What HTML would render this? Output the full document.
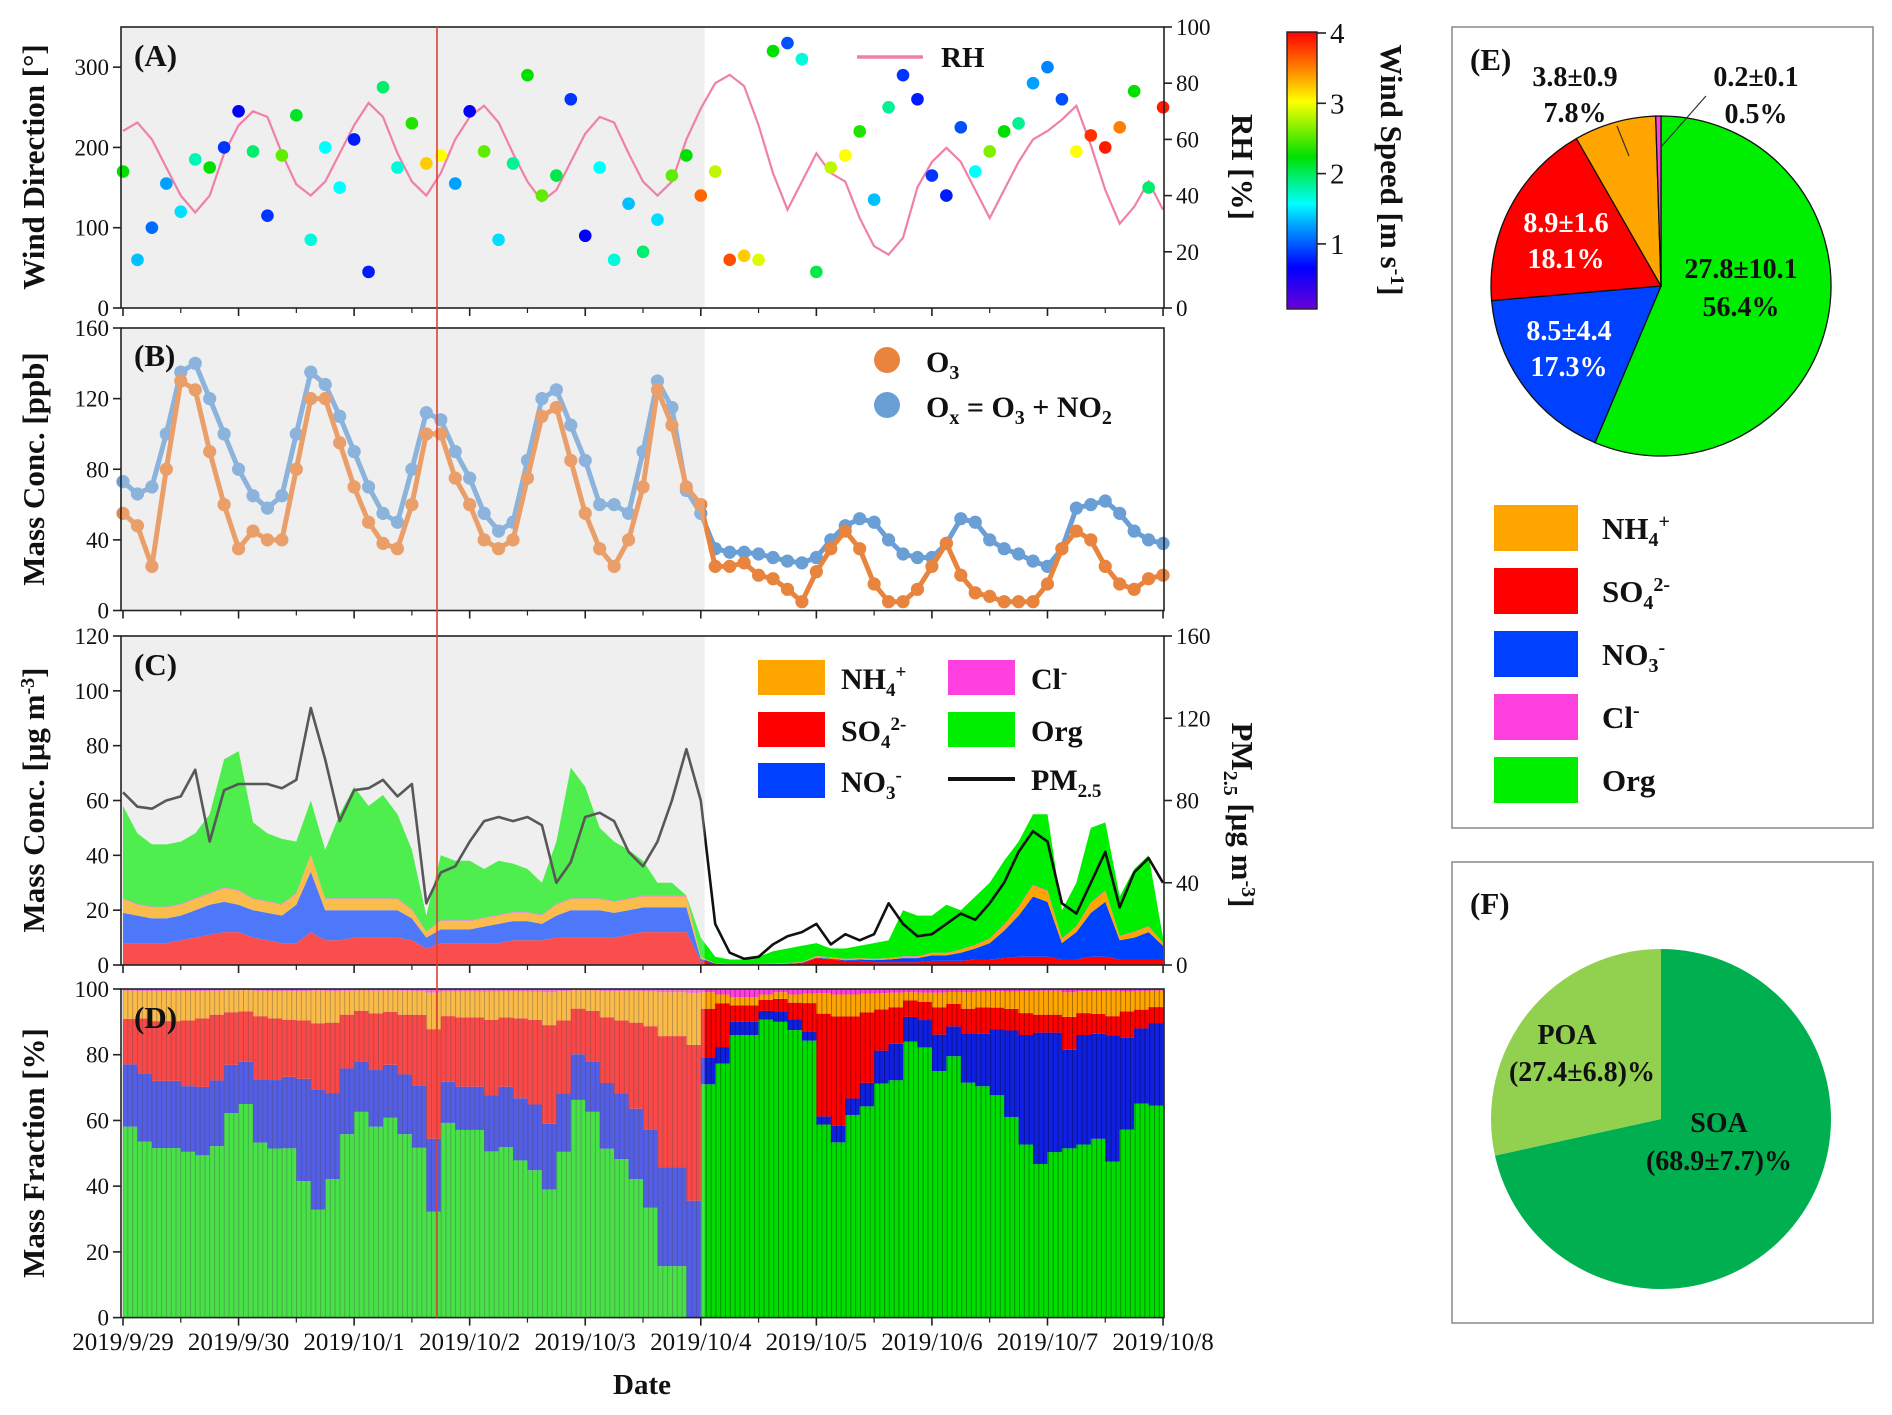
<!DOCTYPE html>
<html><head><meta charset="utf-8"><style>
html,body{margin:0;padding:0;background:#fff;}
svg{display:block;font-family:"Liberation Serif",serif;}
</style></head><body>
<svg id="chart" width="1892" height="1415" viewBox="0 0 1892 1415" xmlns="http://www.w3.org/2000/svg">
<defs>
<linearGradient id="wsgrad" x1="0" y1="1" x2="0" y2="0">
<stop offset="0" stop-color="#6a00d8"/><stop offset="0.15" stop-color="#0000ff"/><stop offset="0.3" stop-color="#00a0ff"/><stop offset="0.38" stop-color="#00ffff"/><stop offset="0.55" stop-color="#00e000"/><stop offset="0.75" stop-color="#ffff00"/><stop offset="0.87" stop-color="#ff8000"/><stop offset="1" stop-color="#ff0000"/>
</linearGradient>
</defs>
<g id="root"></g>
</svg>
<script>
// ---------- DATA (3-hourly, 2019/9/29 00:00 to 2019/10/8 00:00) ----------
const dateLabels = ["2019/9/29","2019/9/30","2019/10/1","2019/10/2","2019/10/3","2019/10/4","2019/10/5","2019/10/6","2019/10/7","2019/10/8"];
const rhVals = [63,66,60,50,40,34,40,55,65,70,68,55,44,40,45,55,65,73,68,55,45,40,48,60,68,72,66,55,45,38,42,52,62,68,66,55,45,40,45,60,71,80,83,79,65,48,35,45,55,48,45,32,22,19,25,43,52,57,52,42,32,42,52,60,63,67,72,58,42,30,36,45,35];
const windDir = [170,60,100,155,120,185,175,200,245,195,115,190,240,85,200,150,210,45,275,175,230,180,190,155,245,195,85,180,290,140,165,260,90,175,60,130,70,110,165,190,140,170,60,65,60,320,330,310,45,175,190,220,135,250,290,260,165,140,225,170,195,220,230,280,300,260,195,215,200,225,270,150,250];
const windSpd = [2.2,1.3,1.0,1.2,1.4,1.7,2.2,0.8,0.6,1.9,0.8,2.5,2.1,1.6,1.5,1.5,0.7,0.7,1.9,1.6,2.3,3.2,3.0,1.2,0.6,2.5,1.4,1.8,2.2,2.5,2.0,0.8,0.6,1.5,1.6,1.3,1.9,1.4,2.5,2.2,3.6,2.8,3.7,3.2,2.9,2.2,0.9,1.6,2.0,2.8,3.0,2.3,1.3,1.8,0.8,0.7,0.8,0.7,0.9,1.5,2.6,2.2,1.8,1.2,1.1,0.9,3.0,3.8,3.9,3.5,2.2,1.9,3.9];
const oxVals = [73,66,70,100,135,140,120,100,80,65,58,65,100,135,128,110,90,70,55,50,80,112,108,90,75,55,45,50,85,120,125,105,85,60,60,55,90,130,115,68,55,35,33,33,32,30,28,27,30,40,48,52,50,40,32,30,30,38,52,50,40,35,32,28,25,35,58,60,62,55,45,40,38];
const o3Vals = [55,48,25,80,130,125,90,60,35,45,40,40,80,120,120,95,70,50,38,35,60,100,100,75,60,40,35,40,75,110,115,85,55,35,25,40,70,125,105,70,60,25,25,27,20,18,12,5,22,35,45,35,15,5,5,12,25,38,20,10,8,5,5,5,15,35,45,40,25,15,12,18,20];
const totalMass = [58,48,44,44,45,48,55,75,78,52,48,46,45,60,42,55,65,58,62,55,42,18,40,38,38,35,38,37,35,30,45,72,65,50,45,42,38,30,30,25,10,3,2,2,3,5,6,7,8,6,6,7,8,9,20,18,18,22,20,25,30,38,45,55,55,20,30,50,52,25,35,40,10];
const so4Vals = [8,8,8,8,9,10,11,12,12,10,9,8,8,12,9,9,10,10,10,10,9,6,8,8,8,8,8,9,9,9,10,10,10,10,10,11,12,12,12,12,1.5,0.4,0.1,0.1,0.1,0.2,0.3,0.6,2.5,2,1.5,1.5,1,1,1,1,1.5,1.5,1.5,2,2,2.5,3,3,3,2,2,3,3,2,2,2,2];
const no3Vals = [11,10,9,9,9,10,11,11,10,10,10,10,14,22,11,11,10,10,10,10,8,4,5,5,5,6,7,7,7,6,8,10,10,10,9,9,9,9,9,9,0.8,0.15,0.08,0.08,0.08,0.15,0.2,0.2,0.2,0.3,0.3,0.5,0.8,1,1.5,1.5,2,2,3,4,6,10,15,22,20,6,10,16,20,7,8,10,5];
const nh4Vals = [5,4,4,4,4,4,4,5,5,4,4,4,4,6,4,4,4,4,4,4,3,2,3,3,3,3,3,3,3,3,4,4,4,4,4,4,4,4,4,4,0.5,0.08,0.05,0.05,0.05,0.1,0.15,0.2,0.5,0.4,0.4,0.4,0.4,0.4,0.5,0.5,0.8,0.8,1,1.2,1.5,2,3,4,4,1.5,2,3.5,4,1.5,2,2,1];
const clVals = [0.3,0.3,0.3,0.3,0.3,0.3,0.3,0.3,0.3,0.3,0.3,0.3,0.3,0.3,0.3,0.3,0.3,0.3,0.3,0.3,0.3,0.2,0.3,0.3,0.3,0.3,0.3,0.3,0.3,0.3,0.3,0.3,0.3,0.3,0.3,0.3,0.3,0.3,0.3,0.3,0.1,0.05,0.05,0.05,0.05,0.05,0.1,0.1,0.1,0.1,0.1,0.1,0.1,0.1,0.2,0.2,0.2,0.2,0.2,0.2,0.2,0.3,0.3,0.3,0.3,0.2,0.2,0.3,0.3,0.2,0.2,0.2,0.1];
const pmVals = [84,77,76,80,82,95,60,85,88,88,88,86,90,125,100,70,85,86,90,82,88,30,45,48,60,70,72,70,72,68,40,50,72,74,70,55,48,60,80,105,80,20,6,3,4,10,14,16,20,10,15,12,15,30,20,14,15,20,25,22,30,40,55,65,60,30,25,40,55,28,45,52,40];
const pieELabels = ["Org","NO3","SO4","NH4","Cl"];
const pieEVals = [56.4,17.3,18.1,7.8,0.5];
const pieFLabels = ["SOA","POA"];
const pieFVals = [68.9,27.4];

// ---------- helpers ----------
const NS="http://www.w3.org/2000/svg";
const root=document.getElementById('root');
function mk(tag,attrs,parent){const e=document.createElementNS(NS,tag);for(const k in attrs)e.setAttribute(k,attrs[k]);(parent||root).appendChild(e);return e;}
function txt(s,x,y,size,opts,parent){opts=opts||{};const e=mk('text',{x:x,y:y,'font-size':size,'text-anchor':opts.anchor||'start','font-weight':opts.bold?'bold':'normal',fill:opts.fill||'#111'},parent);if(opts.rot)e.setAttribute('transform','rotate('+opts.rot+' '+x+' '+y+')');e.innerHTML=s;return e;}
const X0=123, DAYW=115.56, LEFT=121, RIGHT=1164, GRAYEND=704.6;
const N=rhVals.length;
function tOf(i){return i/8;}
function xOf(t){return X0+t*DAYW;}
const A={top:27,bot:308}, B={top:328,bot:610.5}, C={top:636,bot:965}, D={top:989,bot:1317.6};
function yA(d){return A.bot-d*(A.bot-A.top)/350;}
function yRH(v){return A.bot-v*(A.bot-A.top)/100;}
function yB(v){return B.bot-v*(B.bot-B.top)/160;}
function yC(v){return C.bot-v*(C.bot-C.top)/120;}
function yPM(v){return C.bot-v*(C.bot-C.top)/160;}
function yD(p){return D.bot-p*(D.bot-D.top)/100;}
function wsColor(v){const st=[[0,[106,0,216]],[0.6,[0,0,255]],[1.2,[0,160,255]],[1.5,[0,255,255]],[2.2,[0,224,0]],[3,[255,255,0]],[3.5,[255,128,0]],[4,[255,0,0]]];v=Math.max(0,Math.min(4,v));for(let k=1;k<st.length;k++){if(v<=st[k][0]){const a=st[k-1],b=st[k];const f=(v-a[0])/(b[0]-a[0]);const c=a[1].map((q,j)=>Math.round(q+(b[1][j]-q)*f));return 'rgb('+c.join(',')+')';}}return 'rgb(255,0,0)';}

function panelFrame(P,name){
  const g=mk('g',{});
  
  
  mk('rect',{x:LEFT,y:P.top,width:RIGHT-LEFT,height:P.bot-P.top,fill:'none',stroke:'#222','stroke-width':1.6},g);
  for(let d=0;d<=9;d++){mk('line',{x1:xOf(d),y1:P.bot,x2:xOf(d),y2:P.bot+8,stroke:'#222','stroke-width':1.6},g);}
  for(let d=0;d<9;d++){mk('line',{x1:xOf(d+0.5),y1:P.bot,x2:xOf(d+0.5),y2:P.bot+5,stroke:'#222','stroke-width':1.2},g);}
}
function leftAxis(P,ticks,yf,name){
  const g=mk('g',{});
  
  
  ticks.forEach(v=>{const y=yf(v);mk('line',{x1:LEFT-8,y1:y,x2:LEFT,y2:y,stroke:'#222','stroke-width':1.6},g);txt(String(v),LEFT-12,y+8,23,{anchor:'end'},g);});
}
function rightAxis(P,ticks,yf,name){
  const g=mk('g',{});
  
  
  ticks.forEach(v=>{const y=yf(v);mk('line',{x1:RIGHT,y1:y,x2:RIGHT+8,y2:y,stroke:'#222','stroke-width':1.6},g);txt(String(v),RIGHT+12,y+8,23,{},g);});
}
function grayBg(P){const r=mk('rect',{x:LEFT,y:P.top,width:GRAYEND-LEFT,height:P.bot-P.top,fill:'#efefef'});}
function grayOverlay(P,op){const r=mk('rect',{x:LEFT,y:P.top,width:GRAYEND-LEFT,height:P.bot-P.top,fill:'#f0f0f0','fill-opacity':op});}

// ---------- Panel A ----------
grayBg(A);
{
  let d='';for(let i=0;i<N;i++){d+=(i?'L':'M')+xOf(tOf(i)).toFixed(1)+' '+yRH(rhVals[i]).toFixed(1);}
  const p=mk('path',{d:d,fill:'none',stroke:'#f080a8','stroke-width':2.2});
  
  
  for(let i=0;i<N;i++){
    const c=mk('circle',{cx:xOf(tOf(i)),cy:yA(windDir[i]),r:6.3,fill:wsColor(windSpd[i])});
    
    
  }
}
panelFrame(A,'panel-a');
leftAxis(A,[0,100,200,300],yA,'wind-direction-axis');
rightAxis(A,[0,20,40,60,80,100],yRH,'rh-axis');
txt('(A)',134,66,31,{bold:true});
{const l=mk('line',{x1:857,y1:57,x2:923,y2:57,stroke:'#f080a8','stroke-width':3.5});}
txt('RH',941,67,29,{bold:true});
txt('Wind Direction [°]',44,167,31,{bold:true,anchor:'middle',rot:-90});
txt('RH [%]',1232,167,31,{bold:true,anchor:'middle',rot:90});
// colorbar
{const r=mk('rect',{x:1287,y:32,width:30,height:277,fill:'url(#wsgrad)',stroke:'#222','stroke-width':1.4});
[1,2,3,4].forEach(v=>{const y=33+(4-v)*70.3;mk('line',{x1:1317,y1:y,x2:1326,y2:y,stroke:'#222','stroke-width':1.6});txt(String(v),1330,y+10,29);});
txt('Wind Speed [m s<tspan dy="-10" font-size="20">-1</tspan><tspan dy="10">]</tspan>',1381,170,31,{bold:true,anchor:'middle',rot:90});}

// ---------- Panel B ----------
grayBg(B);
{
  let d1='',d2='';
  for(let i=0;i<N;i++){d1+=(i?'L':'M')+xOf(tOf(i)).toFixed(1)+' '+yB(oxVals[i]).toFixed(1);d2+=(i?'L':'M')+xOf(tOf(i)).toFixed(1)+' '+yB(o3Vals[i]).toFixed(1);}
  const p1=mk('path',{d:d1,fill:'none',stroke:'#6a9fd6','stroke-width':5,'stroke-linejoin':'round','stroke-linecap':'round'});
  
  for(let i=0;i<N;i++){const c=mk('circle',{cx:xOf(tOf(i)),cy:yB(oxVals[i]),r:6.6,fill:'#6a9fd6'});}
  const p2=mk('path',{d:d2,fill:'none',stroke:'#e8843e','stroke-width':5,'stroke-linejoin':'round','stroke-linecap':'round'});
  
  for(let i=0;i<N;i++){const c=mk('circle',{cx:xOf(tOf(i)),cy:yB(o3Vals[i]),r:6.6,fill:'#e8843e'});}
}
grayOverlay(B,0.25);
panelFrame(B,'panel-b');
leftAxis(B,[0,40,80,120,160],yB,'ozone-axis');
txt('(B)',134,366,31,{bold:true});
{const c=mk('circle',{cx:887,cy:360,r:13,fill:'#e8843e'});
const c2=mk('circle',{cx:887,cy:405,r:13,fill:'#6a9fd6'});}
txt('O<tspan dy="7" font-size="20">3</tspan>',926,372,30,{bold:true});
txt('O<tspan dy="7" font-size="20">x</tspan><tspan dy="-7"> = O</tspan><tspan dy="7" font-size="20">3</tspan><tspan dy="-7"> + NO</tspan><tspan dy="7" font-size="20">2</tspan>',926,417,30,{bold:true});
txt('Mass Conc. [ppb]',44,469,31,{bold:true,anchor:'middle',rot:-90});

// ---------- Panel C ----------
grayBg(C);
const cols={org:'#00ee00',no3:'#0040ff',so4:'#ff0000',nh4:'#ffa500',cl:'#ff40e0'};
{
  const layers=[['so4',so4Vals],['no3',no3Vals],['nh4',nh4Vals],['cl',clVals]];
  const orgVals=totalMass.map((t,i)=>Math.max(0,t-so4Vals[i]-no3Vals[i]-nh4Vals[i]-clVals[i]));
  layers.push(['org',orgVals]);
  let base=new Array(N).fill(0);
  layers.forEach(([nm,arr])=>{
    const top=base.map((b,i)=>b+arr[i]);
    let d='';
    for(let i=0;i<N;i++)d+=(i?'L':'M')+xOf(tOf(i)).toFixed(1)+' '+yC(top[i]).toFixed(1);
    for(let i=N-1;i>=0;i--)d+='L'+xOf(tOf(i)).toFixed(1)+' '+yC(base[i]).toFixed(1);
    const p=mk('path',{d:d+'Z',fill:cols[nm]});
    
    
    base=top;
  });
  let d='';for(let i=0;i<N;i++)d+=(i?'L':'M')+xOf(tOf(i)).toFixed(1)+' '+yPM(pmVals[i]).toFixed(1);
  const pl=mk('path',{d:d,fill:'none',stroke:'#111','stroke-width':2.6,'stroke-linejoin':'round'});
  
  
  // stacked bars D
  const w=DAYW/8;
  for(let i=0;i<N-1;i++){
    const tot=so4Vals[i]+no3Vals[i]+nh4Vals[i]+clVals[i]+orgVals[i];
    const parts=[['org',orgVals[i]],['no3',no3Vals[i]],['so4',so4Vals[i]],['nh4',nh4Vals[i]],['cl',clVals[i]]];
    let acc=0;
    parts.forEach(([nm,v])=>{
      const p0=acc/tot*100, p1=(acc+v)/tot*100; acc+=v;
      const r=mk('rect',{x:xOf(tOf(i)),y:yD(p1),width:w+0.3,height:Math.max(0,yD(p0)-yD(p1)),fill:nm==='no3'?'#1020e0':(nm==='org'?'#00dd00':cols[nm])});
      
      
    });
  }
  const hg=mk('g',{stroke:'#000','stroke-opacity':0.35,'stroke-width':1});
  
  for(let x=X0;x<xOf(9);x+=4.82){mk('line',{x1:x,y1:D.top,x2:x,y2:D.bot},hg);}
}
grayOverlay(C,0.32);
panelFrame(C,'panel-c');
leftAxis(C,[0,20,40,60,80,100,120],yC,'mass-conc-axis');
rightAxis(C,[0,40,80,120,160],yPM,'pm25-axis');
txt('(C)',134,675,31,{bold:true});
{
  const items=[['NH4','<tspan dy="7" font-size="19">4</tspan><tspan dy="-18" font-size="19">+</tspan>',758,660,cols.nh4],['SO4','<tspan dy="7" font-size="19">4</tspan><tspan dy="-18" font-size="19">2-</tspan>',758,712,cols.so4],['NO3','<tspan dy="7" font-size="19">3</tspan><tspan dy="-18" font-size="19">-</tspan>',758,763,cols.no3],['Cl','<tspan dy="-11" font-size="19">-</tspan>',948,660,cols.cl],['Org','',948,712,cols.org]];
  items.forEach(([nm,sub,x,y,c])=>{const r=mk('rect',{x:x,y:y,width:67,height:35,fill:c});
    const base=nm.replace(/\d/,'');txt(base+sub,x+83,y+29,30,{bold:true});});
  const l=mk('line',{x1:948,y1:779,x2:1015,y2:779,stroke:'#111','stroke-width':4});
  txt('PM<tspan dy="7" font-size="19">2.5</tspan>',1031,790,30,{bold:true});
}
txt('Mass Conc. [μg m<tspan dy="-10" font-size="20">-3</tspan><tspan dy="10">]</tspan>',44,800,31,{bold:true,anchor:'middle',rot:-90});
txt('PM<tspan dy="8" font-size="20">2.5</tspan><tspan dy="-8"> [μg m</tspan><tspan dy="-10" font-size="20">-3</tspan><tspan dy="10">]</tspan>',1232,815,31,{bold:true,anchor:'middle',rot:90});

// ---------- Panel D ----------
grayOverlay(D,0.3);
panelFrame(D,'panel-d');
leftAxis(D,[0,20,40,60,80,100],yD,'mass-fraction-axis');
txt('(D)',134,1028,31,{bold:true});
txt('Mass Fraction [%]',44,1153,31,{bold:true,anchor:'middle',rot:-90});
dateLabels.forEach((s,k)=>{const t=txt(s,xOf(k),1350,25,{anchor:'middle'});});
txt('Date',642,1394,29,{bold:true,anchor:'middle'});
{const l=mk('line',{x1:437,y1:A.top,x2:437,y2:D.bot,stroke:'#e04030','stroke-width':1.6});}

// ---------- Pies ----------
function pie(cx,cy,r,vals,colors,names,stroke){
  const tot=vals.reduce((a,b)=>a+b,0);let a0=0;
  vals.forEach((v,k)=>{const a1=a0+v/tot*2*Math.PI;
    const x0=cx+r*Math.sin(a0),y0=cy-r*Math.cos(a0),x1=cx+r*Math.sin(a1),y1=cy-r*Math.cos(a1);
    const large=(a1-a0)>Math.PI?1:0;
    const p=mk('path',{d:`M${cx} ${cy}L${x0.toFixed(2)} ${y0.toFixed(2)}A${r} ${r} 0 ${large} 1 ${x1.toFixed(2)} ${y1.toFixed(2)}Z`,fill:colors[k],stroke:stroke||'none','stroke-width':1.3});
    
    
    a0=a1;});
}
{const r=mk('rect',{x:1452,y:27,width:421,height:801,fill:'none',stroke:'#888','stroke-width':1.5});
const r2=mk('rect',{x:1452,y:862,width:421,height:461,fill:'none',stroke:'#888','stroke-width':1.5});}
pie(1661,286,170,pieEVals,['#00ee00','#0040ff','#ff0000','#ffa500','#ff40e0'],pieELabels,'#111');
txt('(E)',1470,70,31,{bold:true});
txt('27.8±10.1',1741,278,28,{bold:true,anchor:'middle'});
txt('56.4%',1741,316,28,{bold:true,anchor:'middle'});
txt('8.9±1.6',1566,232,28,{bold:true,anchor:'middle',fill:'#fff'});
txt('18.1%',1566,268,28,{bold:true,anchor:'middle',fill:'#fff'});
txt('8.5±4.4',1569,340,28,{bold:true,anchor:'middle',fill:'#fff'});
txt('17.3%',1569,376,28,{bold:true,anchor:'middle',fill:'#fff'});
txt('3.8±0.9',1575,86,28,{bold:true,anchor:'middle'});
txt('7.8%',1575,122,28,{bold:true,anchor:'middle'});
txt('0.2±0.1',1756,86,28,{bold:true,anchor:'middle'});
txt('0.5%',1756,123,28,{bold:true,anchor:'middle'});
mk('line',{x1:1617,y1:126,x2:1629,y2:156,stroke:'#333','stroke-width':1.2});
mk('line',{x1:1706,y1:96,x2:1661,y2:147,stroke:'#333','stroke-width':1.2});
{
  const leg=[['NH<tspan dy="7" font-size="20">4</tspan><tspan dy="-18" font-size="20">+</tspan>','#ffa500','nh4'],['SO<tspan dy="7" font-size="20">4</tspan><tspan dy="-18" font-size="20">2-</tspan>','#ff0000','so4'],['NO<tspan dy="7" font-size="20">3</tspan><tspan dy="-18" font-size="20">-</tspan>','#0040ff','no3'],['Cl<tspan dy="-11" font-size="20">-</tspan>','#ff40e0','cl'],['Org','#00ee00','org']];
  leg.forEach(([s,c,n],k)=>{const y=528+k*63;const r=mk('rect',{x:1494,y:y-23,width:84,height:46,fill:c});txt(s,1602,y+11,31,{bold:true});});
}
pie(1661,1119,170,pieFVals,['#00b050','#92d050'],pieFLabels);
txt('(F)',1470,914,31,{bold:true});
txt('POA',1567,1044,28,{bold:true,anchor:'middle'});
txt('(27.4±6.8)%',1582,1081,28,{bold:true,anchor:'middle'});
txt('SOA',1719,1132,28,{bold:true,anchor:'middle'});
txt('(68.9±7.7)%',1719,1170,28,{bold:true,anchor:'middle'});
</script>
</body></html>
